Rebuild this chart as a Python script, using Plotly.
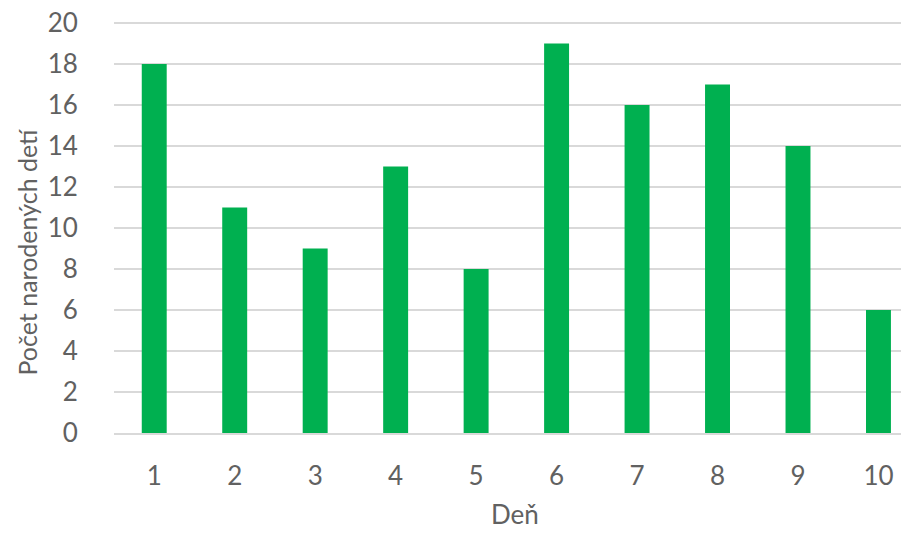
import plotly.graph_objects as go

dni = ["1", "2", "3", "4", "5", "6", "7", "8", "9", "10"]
pocet = [18, 11, 9, 13, 8, 19, 16, 17, 14, 6]
y_ticks = [0, 2, 4, 6, 8, 10, 12, 14, 16, 18, 20]
x_title = "Deň"
y_title = "Počet narodených detí"

TXT = "#616161"
fig = go.Figure(go.Bar(x=dni, y=pocet, marker=dict(color="#00B050", line=dict(width=0)), width=0.31))

fig.update_layout(
    width=901, height=533,
    margin=dict(l=114, r=0, t=22, b=100),
    plot_bgcolor="white", paper_bgcolor="white",
    font=dict(family="Lato, Open Sans, sans-serif", size=26, color=TXT),
    showlegend=False,
    xaxis=dict(
        type="category", range=[-0.5, 9.28],
        showgrid=False, showline=True, linecolor="#d9d9d9", linewidth=2,
        ticks="outside", ticklen=0, tickcolor="white", ticklabelstandoff=19,
    ),
    yaxis=dict(
        range=[0, 20.05], tickvals=y_ticks, showgrid=True, gridcolor="#d9d9d9", gridwidth=1.5,
        zeroline=False, showline=False, ticks="outside", ticklen=0, tickcolor="white",
        ticklabelstandoff=30,
    ),
    annotations=[
        dict(text=x_title, xref="paper", yref="paper", x=0.5095, y=-0.2409,
             xanchor="center", yanchor="bottom", showarrow=False, font=dict(size=26, color=TXT)),
        dict(text=y_title, xref="paper", yref="paper", x=-0.1118, y=0.4416, textangle=-90,
             xanchor="center", yanchor="middle", showarrow=False, font=dict(size=25, color=TXT)),
    ],
)

fig.write_html("out.html", post_script="document.body.style.margin='0';",
               config={"displayModeBar": False})
